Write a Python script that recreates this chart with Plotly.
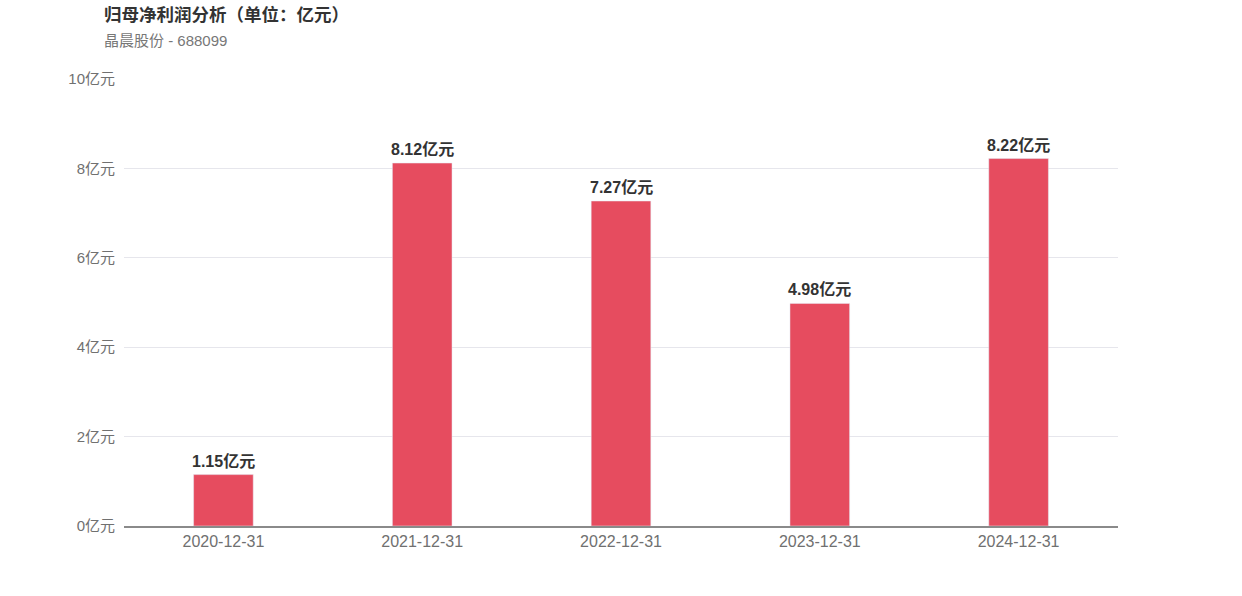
import plotly.graph_objects as go

# data
dates = ["2020-12-31", "2021-12-31", "2022-12-31", "2023-12-31", "2024-12-31"]
profit = [1.15, 8.12, 7.27, 4.98, 8.22]
y_ticks = [0, 2, 4, 6, 8, 10]
y_tick_text = ["0亿元", "2亿元", "4亿元", "6亿元", "8亿元", "10亿元"]

font_family = "Liberation Sans, Arial, Noto Sans CJK SC, sans-serif"

W, H = 1242, 596
ML, MR, MT, MB = 124, 124, 79, 70
pw, ph = W - ML - MR, H - MT - MB


def px_to_paper(x, y_top):
    # pixel position on the page -> paper coords of the plot area
    return (x - ML) / pw, (H - y_top - MB) / ph


fig = go.Figure()
fig.add_bar(
    x=dates,
    y=profit,
    width=0.3,
    marker_color="#e64c5f",
    hoverinfo="x+y",
)

# value labels above the bars
for d, v in zip(dates, profit):
    fig.add_annotation(
        x=d, y=v, text=f"<b>{v:.2f}亿元</b>",
        showarrow=False, yanchor="bottom", yshift=3,
        font=dict(size=16, color="#333333"),
    )

tx, ty = px_to_paper(102, 13)
sx, sy = px_to_paper(102, 40)

fig.add_annotation(
    text="<b>归母净利润分析（单位：亿元）</b>",
    x=tx, y=ty, xref="paper", yref="paper",
    showarrow=False,
    font=dict(size=17.5, color="#333333", family="Noto Sans CJK SC, sans-serif"),
    xanchor="left", yanchor="middle",
)
fig.add_annotation(
    text="晶晨股份 - 688099",
    x=sx, y=sy, xref="paper", yref="paper",
    showarrow=False,
    font=dict(size=15, color="#777777"),
    xanchor="left", yanchor="middle",
)

fig.update_layout(
    width=W,
    height=H,
    plot_bgcolor="white",
    paper_bgcolor="white",
    showlegend=False,
    margin=dict(l=ML, r=MR, t=MT, b=MB),
    font=dict(family=font_family, color="#707070", size=16),
)

fig.update_yaxes(
    range=[0, 10],
    tickvals=y_ticks,
    ticktext=y_tick_text,
    tickfont=dict(size=15),
    showgrid=True,
    gridcolor="#e6e6ec",
    gridwidth=1,
    zeroline=False,
    ticks="",
    ticklabelstandoff=8,
)
fig.update_xaxes(
    type="category",
    showline=True,
    linecolor="#8a8a8a",
    linewidth=1.5,
    ticks="",
    showgrid=False,
)

# drop the default page margin so the figure sits at the window's corner
fig.write_html(
    "out.html",
    config={"displayModeBar": False},
    post_script="document.body.style.margin='0';",
)
